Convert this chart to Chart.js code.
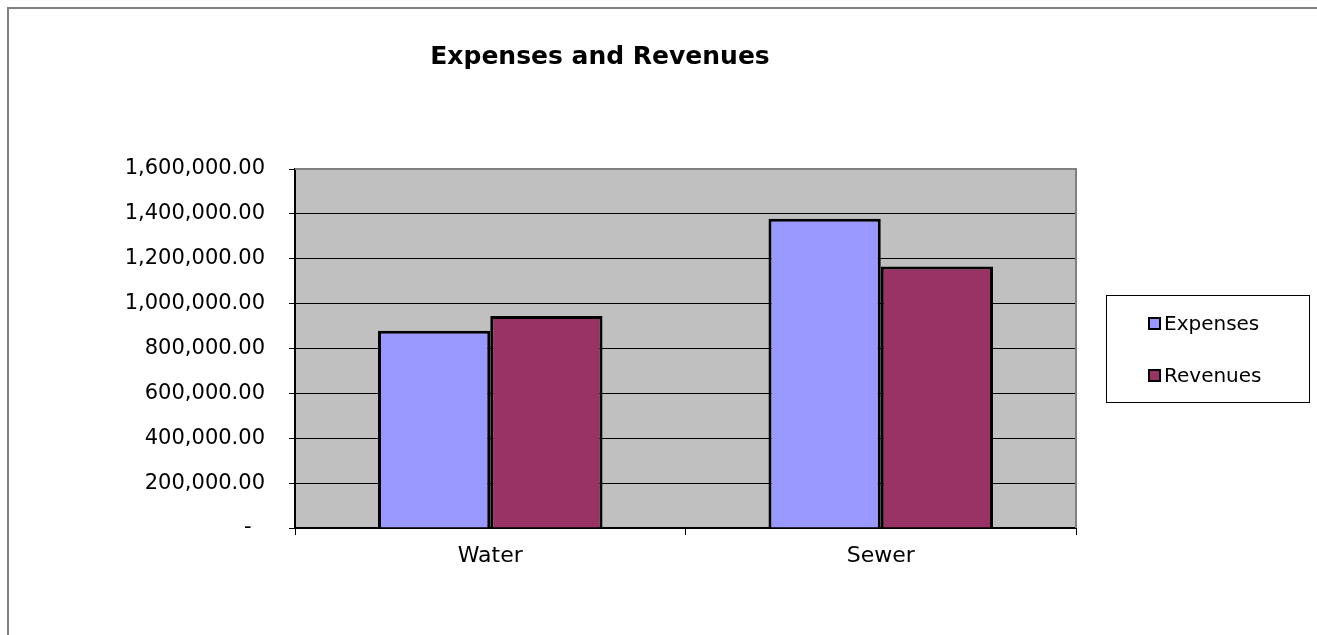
<!DOCTYPE html>
<html>
<head>
<meta charset="utf-8">
<title>Expenses and Revenues</title>
<script src="https://cdn.jsdelivr.net/npm/chart.js@4.4.1/dist/chart.umd.min.js"></script>
<style>
    html, body { margin: 0; padding: 0; background: #fff; }
    #wrap { position: relative; width: 1317px; height: 635px; }
</style>
</head>
<body>
<div id="wrap"><canvas id="finChart" width="1317" height="635"></canvas></div>
<script>
    // --- data ---
    const categories = ['Water', 'Sewer'];
    const expenses = [879000, 1378000];
    const revenues = [944400, 1165300];
    const yTickLabels = ['-  ', '200,000.00', '400,000.00', '600,000.00', '800,000.00',
        '1,000,000.00', '1,200,000.00', '1,400,000.00', '1,600,000.00'];
    const chartTitle = 'Expenses and Revenues';

    const FONT = "'DejaVu Sans', Arial, sans-serif";

    // frame, plot background, title and boxed legend (Excel look)
    const excelLook = {
        id: 'excelLook',
        beforeDraw(chart) {
            const ctx = chart.ctx;
            const a = chart.chartArea;
            ctx.save();
            ctx.strokeStyle = '#808080';
            ctx.lineWidth = 2;
            ctx.strokeRect(8, 8, 1400, 700);
            ctx.fillStyle = '#C0C0C0';
            ctx.fillRect(a.left, a.top, a.right - a.left, a.bottom - a.top);
            ctx.restore();
        },
        afterDraw(chart) {
            const ctx = chart.ctx;
            const a = chart.chartArea;
            ctx.save();
            // plot border (right and top)
            ctx.strokeStyle = '#808080';
            ctx.lineWidth = 2;
            ctx.beginPath();
            ctx.moveTo(a.left, a.top);
            ctx.lineTo(a.right, a.top);
            ctx.lineTo(a.right, a.bottom);
            ctx.stroke();

            // title
            ctx.fillStyle = '#000';
            ctx.font = 'bold 25px ' + FONT;
            ctx.textAlign = 'center';
            ctx.textBaseline = 'alphabetic';
            ctx.fillText(chartTitle, 600, 64);

            // legend box
            ctx.strokeStyle = '#000';
            ctx.lineWidth = 1;
            ctx.strokeRect(1106.5, 295.5, 203, 107);
            ctx.font = '20px ' + FONT;
            ctx.textAlign = 'left';
            chart.data.datasets.forEach((ds, i) => {
                const base = 330 + i * 52;
                ctx.fillStyle = ds.backgroundColor;
                ctx.fillRect(1149, base - 12, 11, 11);
                ctx.lineWidth = 2;
                ctx.strokeRect(1149, base - 12, 11, 11);
                ctx.fillStyle = '#000';
                ctx.fillText(ds.label, 1164, base);
            });
            ctx.restore();
        }
    };

    const ctx = document.getElementById('finChart').getContext('2d');
    new Chart(ctx, {
        type: 'bar',
        data: {
            labels: categories,
            datasets: [{
                label: 'Expenses',
                data: expenses,
                backgroundColor: '#9999FF',
                borderColor: '#000',
                borderWidth: 3
            }, {
                label: 'Revenues',
                data: revenues,
                backgroundColor: '#993366',
                borderColor: '#000',
                borderWidth: 3
            }]
        },
        options: {
            responsive: false,
            animation: false,
            categoryPercentage: 0.575,
            barPercentage: 1.0,
            layout: {
                padding: { top: 169, right: 241, left: 0, bottom: 0 }
            },
            plugins: {
                legend: { display: false },
                title: { display: false },
                tooltip: { enabled: false }
            },
            scales: {
                x: {
                    offset: true,
                    grid: {
                        offset: true,
                        drawOnChartArea: false,
                        drawTicks: true,
                        tickLength: 7,
                        tickColor: '#000'
                    },
                    border: { color: '#000', width: 2 },
                    ticks: {
                        color: '#000',
                        font: { family: FONT, size: 22 },
                        padding: 8
                    },
                    afterFit(scale) { scale.height = 107; }
                },
                y: {
                    min: 0,
                    max: 1600000,
                    ticks: {
                        stepSize: 200000,
                        color: '#000',
                        font: { family: FONT, size: 21 },
                        padding: 24,
                        callback: (v, i) => yTickLabels[i]
                    },
                    grid: {
                        color: '#000',
                        lineWidth: 1,
                        tickLength: 6,
                        tickColor: '#000'
                    },
                    border: { color: '#000', width: 2 },
                    afterFit(scale) { scale.width = 295; }
                }
            }
        },
        plugins: [excelLook]
    });
</script>
</body>
</html>
